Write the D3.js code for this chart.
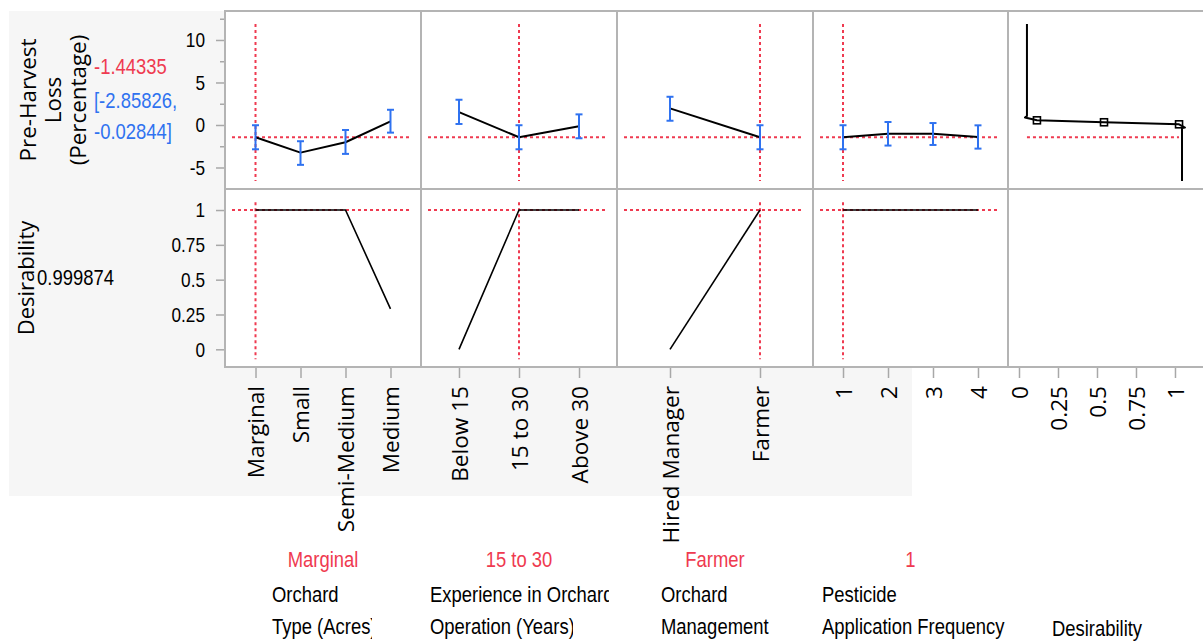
<!DOCTYPE html>
<html>
<head>
<meta charset="utf-8">
<script src="https://cdn.jsdelivr.net/npm/d3@7"></script>
<style>
  html, body { margin: 0; padding: 0; background: #ffffff; }
  svg { display: block; }
</style>
</head>
<body>
<svg id="chart" width="1203" height="641"></svg>
<script>
// ---- Response: predicted value and confidence interval at current settings ----
const responseTitle = ["Pre-Harvest", "Loss", "(Percentage)"];
const predictedLoss = -1.44335;
const predictedLow = -2.85826;
const predictedHigh = -0.02844;
const overallDesirability = 0.999874;

// ---- Factor 1: Orchard Type (Acres) ----
const orchardType = ["Marginal", "Small", "Semi-Medium", "Medium"];
const orchardTypeLoss = [-1.44335, -3.25, -2.03, 0.43];
const orchardTypeLow = [-2.85826, -4.69, -3.40, -0.90];
const orchardTypeHigh = [-0.02844, -1.91, -0.59, 1.79];
const orchardTypeDesir = [1, 1, 1, 0.29];

// ---- Factor 2: Experience in Orchard Operation (Years) ----
const experience = ["Below 15", "15 to 30", "Above 30"];
const experienceLoss = [1.52, -1.44335, -0.15];
const experienceLow = [0.12, -2.85826, -1.56];
const experienceHigh = [2.97, -0.02844, 1.25];
const experienceDesir = [0, 1, 1];

// ---- Factor 3: Orchard Management ----
const management = ["Hired Manager", "Farmer"];
const managementLoss = [1.95, -1.44335];
const managementLow = [0.50, -2.85826];
const managementHigh = [3.32, -0.02844];
const managementDesir = [0, 1];

// ---- Factor 4: Pesticide Application Frequency ----
const frequency = [1, 2, 3, 4];
const frequencyLoss = [-1.44335, -1.02, -1.02, -1.40];
const frequencyLow = [-2.85826, -2.42, -2.35, -2.78];
const frequencyHigh = [-0.02844, 0.35, 0.23, -0.04];
const frequencyDesir = [1, 1, 1, 1];

// ---- Current factor settings ----
const currentSettings = ["Marginal", "15 to 30", "Farmer", "1"];
const factorTitles = [
  ["Orchard", "Type (Acres)"],
  ["Experience in Orchard", "Operation (Years)"],
  ["Orchard", "Management"],
  ["Pesticide", "Application Frequency"]
];
const desirabilityTitle = "Desirability";

// ---- Desirability function (minimize), plotted as desirability vs loss ----
const desirCurveD = [0.051, 0.051, 0.038, 0.115, 0.545, 1.026, 1.064, 1.045, 1.045];
const desirCurveLoss = [11.88, 1.06, 0.88, 0.55, 0.32, 0.08, -0.30, -0.36, -6.59];
const desirControlD = [0.115, 0.545, 1.026];
const desirControlLoss = [0.55, 0.32, 0.08];

// ---- Axis ticks ----
const lossTicks = [10, 5, 0, -5];
const lossMinorTicks = [12.5, 7.5, 2.5, -2.5];
const desirTicks = [1, 0.75, 0.5, 0.25, 0];
const desirAxisTicks = [0, 0.25, 0.5, 0.75, 1];
const desirAxisLabels = ["0", "0.25", "0.5", "0.75", "1"];

// ================= drawing =================
const RED = "#ef3a50", BLUE = "#2f72f0", GRID = "#b4b4b4", TICK = "#a8a8a8";
const SANS = "'Liberation Sans', Arial, sans-serif";
const WIDE = "'Open Sans', 'DejaVu Sans', sans-serif";
const NS = 0.82;           // horizontal squeeze for the condensed labels
const WIDE_SIZE = "22.6px";

const svg = d3.select("#chart");

const colEdges = [225, 421, 617, 813, 1008, 1206];
const rowTop = [11, 189], rowBottom = [189, 367];

// condensed text helper
function narrowText(parent, str, x, y, color, anchor) {
  return parent.append("text")
    .attr("transform", `translate(${x},${y}) scale(${NS},1)`)
    .attr("text-anchor", anchor || "start")
    .style("font-family", SANS).style("font-size", "22.5px")
    .attr("fill", color || "#000")
    .text(str);
}

// gray backdrop behind labels and axes
svg.append("rect").attr("x", 9).attr("y", 11).attr("width", 903).attr("height", 485)
  .attr("fill", "#f6f6f6");

// y scales
const yLoss = d3.scaleLinear().domain([-7.53, 13.41]).range([rowBottom[0], rowTop[0]]);
const yDes = d3.scaleLinear().domain([-0.127, 1.151]).range([rowBottom[1], rowTop[1]]);

// x scales, one per column
const x1 = d3.scalePoint().domain(orchardType).range([colEdges[0], colEdges[1]]).padding(0.678);
const x2 = d3.scalePoint().domain(experience).range([colEdges[1], colEdges[2]]).padding(0.633);
const x3 = d3.scalePoint().domain(management).range([colEdges[2], colEdges[3]]).padding(0.589);
const x4 = d3.scaleLinear().domain([0.333, 4.667]).range([colEdges[3], colEdges[4]]);
const x5 = d3.scaleLinear().domain([-0.0705, 1.186]).range([colEdges[4], colEdges[5] - 2]);

// panel backgrounds
for (let c = 0; c < 5; c++) {
  for (let r = 0; r < 2; r++) {
    svg.append("rect")
      .attr("x", colEdges[c]).attr("y", rowTop[r])
      .attr("width", colEdges[c + 1] - colEdges[c]).attr("height", rowBottom[r] - rowTop[r])
      .attr("fill", "#ffffff");
  }
}

// ---- y axes ----
function styleAxis(g) {
  g.select(".domain").remove();
  g.selectAll(".tick line").attr("stroke", TICK).attr("stroke-width", 1.5);
  g.selectAll(".tick text")
    .attr("fill", "#000")
    .attr("transform", `scale(${NS},1)`)
    .attr("x", -20 / NS)
    .style("font-family", SANS).style("font-size", "21px");
}
svg.append("g").attr("transform", `translate(${colEdges[0]},0)`)
  .call(d3.axisLeft(yLoss).tickValues(lossMinorTicks).tickSize(5).tickFormat(""))
  .call(styleAxis);
svg.append("g").attr("transform", `translate(${colEdges[0]},0)`)
  .call(d3.axisLeft(yLoss).tickValues(lossTicks).tickSize(9).tickPadding(11).tickFormat(d => String(d)))
  .call(styleAxis);
svg.append("g").attr("transform", `translate(${colEdges[0]},0)`)
  .call(d3.axisLeft(yDes).tickValues(desirTicks).tickSize(9).tickPadding(11).tickFormat(d => String(d)))
  .call(styleAxis);

// ---- x axes with rotated labels ----
function bottomAxis(scale, values, labels) {
  let ax = d3.axisBottom(scale).tickSize(11).tickPadding(0);
  if (values) ax = ax.tickValues(values);
  if (labels) ax = ax.tickFormat((d, i) => labels[i]);
  const g = svg.append("g").attr("transform", `translate(0,${rowBottom[1]})`).call(ax);
  g.select(".domain").remove();
  g.selectAll(".tick line").attr("stroke", TICK).attr("stroke-width", 1.5);
  g.selectAll(".tick text")
    .attr("transform", "rotate(-90)")
    .attr("x", -19).attr("y", 0).attr("dy", "0.36em")
    .attr("text-anchor", "end")
    .attr("fill", "#000")
    .style("font-family", WIDE).style("font-size", WIDE_SIZE);
}
bottomAxis(x1);
bottomAxis(x2);
bottomAxis(x3);
bottomAxis(x4, frequency, frequency.map(String));
bottomAxis(x5, desirAxisTicks, desirAxisLabels);

// ---- reference lines at current settings ----
const dashStyle = sel => sel.attr("stroke", RED).attr("stroke-width", 2).attr("stroke-dasharray", "3,3").attr("fill", "none");
const insetL = 7, insetR = 10;
const lossSpan = [desirCurveLoss[desirCurveLoss.length - 1], desirCurveLoss[0]];
const desSpan = [-0.072, 1.055];
const curX = [x1(currentSettings[0]), x2(currentSettings[1]), x3(currentSettings[2]), x4(+currentSettings[3])];

for (let c = 0; c < 4; c++) {
  svg.append("line").attr("x1", colEdges[c] + insetL).attr("x2", colEdges[c + 1] - insetR)
    .attr("y1", yLoss(predictedLoss)).attr("y2", yLoss(predictedLoss)).call(dashStyle);
  svg.append("line").attr("x1", colEdges[c] + insetL).attr("x2", colEdges[c + 1] - insetR)
    .attr("y1", yDes(overallDesirability)).attr("y2", yDes(overallDesirability)).call(dashStyle);
  svg.append("line").attr("x1", curX[c]).attr("x2", curX[c])
    .attr("y1", yLoss(lossSpan[1])).attr("y2", yLoss(lossSpan[0])).call(dashStyle);
  svg.append("line").attr("x1", curX[c]).attr("x2", curX[c])
    .attr("y1", yDes(desSpan[1])).attr("y2", yDes(desSpan[0])).call(dashStyle);
}
svg.append("line").attr("x1", x5(desirCurveD[0])).attr("x2", x5(desirControlD[2]))
  .attr("y1", yLoss(predictedLoss)).attr("y2", yLoss(predictedLoss)).call(dashStyle);

// ---- profile traces ----
const profiles = [
  { x: x1, cats: orchardType, loss: orchardTypeLoss, lo: orchardTypeLow, hi: orchardTypeHigh, des: orchardTypeDesir },
  { x: x2, cats: experience, loss: experienceLoss, lo: experienceLow, hi: experienceHigh, des: experienceDesir },
  { x: x3, cats: management, loss: managementLoss, lo: managementLow, hi: managementHigh, des: managementDesir },
  { x: x4, cats: frequency, loss: frequencyLoss, lo: frequencyLow, hi: frequencyHigh, des: frequencyDesir }
];

profiles.forEach(p => {
  const lossLine = d3.line().x((d, i) => p.x(p.cats[i])).y(d => yLoss(d));
  svg.append("path").attr("d", lossLine(p.loss))
    .attr("fill", "none").attr("stroke", "#000").attr("stroke-width", 2).attr("stroke-linejoin", "round");
  const desLine = d3.line().x((d, i) => p.x(p.cats[i])).y(d => yDes(d));
  svg.append("path").attr("d", desLine(p.des))
    .attr("fill", "none").attr("stroke", "#000").attr("stroke-width", 1.6);
  const eb = svg.append("g").attr("stroke", BLUE).attr("stroke-width", 2).attr("fill", "none");
  p.cats.forEach((cat, i) => {
    const cx = p.x(cat);
    eb.append("line").attr("x1", cx).attr("x2", cx).attr("y1", yLoss(p.hi[i])).attr("y2", yLoss(p.lo[i]));
    eb.append("line").attr("x1", cx - 3.5).attr("x2", cx + 3.5).attr("y1", yLoss(p.hi[i])).attr("y2", yLoss(p.hi[i]));
    eb.append("line").attr("x1", cx - 3.5).attr("x2", cx + 3.5).attr("y1", yLoss(p.lo[i])).attr("y2", yLoss(p.lo[i]));
  });
});

// ---- desirability function curve ----
const curve = d3.line().x((d, i) => x5(desirCurveD[i])).y(d => yLoss(d));
svg.append("path").attr("d", curve(desirCurveLoss))
  .attr("fill", "none").attr("stroke", "#000").attr("stroke-width", 2).attr("stroke-linejoin", "round");
desirControlD.forEach((d, i) => {
  svg.append("rect")
    .attr("x", x5(d) - 3.5).attr("y", yLoss(desirControlLoss[i]) - 3.5)
    .attr("width", 7).attr("height", 7)
    .attr("fill", "none").attr("stroke", "#000").attr("stroke-width", 1.6);
});

// ---- panel borders ----
for (let c = 0; c < 5; c++) {
  for (let r = 0; r < 2; r++) {
    svg.append("rect")
      .attr("x", colEdges[c]).attr("y", rowTop[r])
      .attr("width", colEdges[c + 1] - colEdges[c]).attr("height", rowBottom[r] - rowTop[r])
      .attr("fill", "none").attr("stroke", GRID).attr("stroke-width", 2);
  }
}

// ---- row titles ----
responseTitle.forEach((t, i) => {
  svg.append("text").text(t)
    .attr("transform", `translate(${28 + i * 25},100) rotate(-90)`)
    .attr("text-anchor", "middle").attr("dy", "0.36em")
    .style("font-family", WIDE).style("font-size", "22.4px").attr("fill", "#000");
});
svg.append("text").text(desirabilityTitle)
  .attr("transform", `translate(26,278) rotate(-90)`)
  .attr("text-anchor", "middle").attr("dy", "0.36em")
  .style("font-family", WIDE).style("font-size", "22px").attr("fill", "#000");

// predicted value and interval
narrowText(svg, String(predictedLoss), 94, 74, RED);
narrowText(svg, `[${predictedLow},`, 94, 108, BLUE);
narrowText(svg, `${predictedHigh}]`, 94, 139, BLUE);
narrowText(svg, String(overallDesirability), 37, 285, "#000");

// ---- current settings and factor names below the panels ----
const factorLeft = [272, 430, 661, 822];
const lineClipRight = [[null, 372], [609, 573], [null, null], [null, null]];
const defs = svg.append("defs");
for (let c = 0; c < 4; c++) {
  const cx = (colEdges[c] + colEdges[c + 1]) / 2;
  narrowText(svg, currentSettings[c], cx, 567, RED, "middle");
  factorTitles[c].forEach((t, li) => {
    const y = 602 + li * 32;
    const g = svg.append("g");
    narrowText(g, t, factorLeft[c], y, "#000");
    const clipR = lineClipRight[c][li];
    if (clipR !== null) {
      const id = `clip-${c}-${li}`;
      defs.append("clipPath").attr("id", id).append("rect")
        .attr("x", factorLeft[c] - 2).attr("y", y - 30).attr("width", clipR - factorLeft[c] + 2).attr("height", 40);
      g.attr("clip-path", `url(#${id})`);
    }
  });
}
narrowText(svg, desirabilityTitle, x5(0.5), 636, "#000", "middle");
</script>
</body>
</html>
